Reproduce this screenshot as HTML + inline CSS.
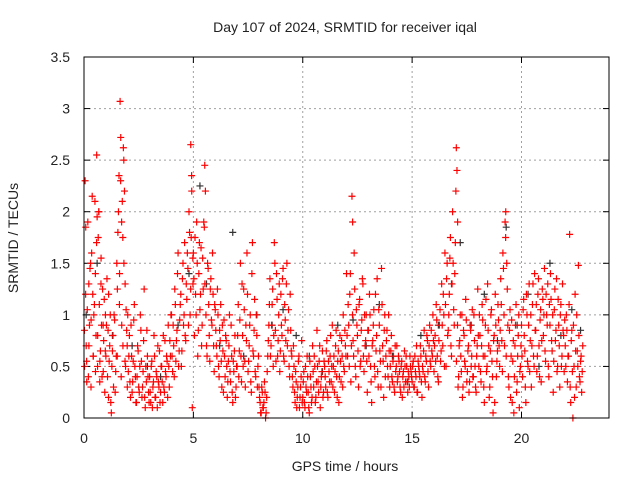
<!DOCTYPE html>
<html><head><meta charset="utf-8"><style>
body{margin:0;background:#fff}
svg text{font-family:"Liberation Sans",sans-serif;fill:#222}
</style></head><body>
<svg id="chart" width="640" height="480" viewBox="0 0 640 480" xmlns="http://www.w3.org/2000/svg">
<text x="345" y="32" font-size="14" text-anchor="middle">Day 107 of 2024, SRMTID for receiver iqal</text>
<text x="345" y="471" font-size="14" text-anchor="middle">GPS time / hours</text>
<text x="0" y="0" font-size="14" text-anchor="middle" transform="translate(18,238) rotate(-90)">SRMTID / TECUs</text>
<g id="grid"></g>
<g id="ticks"></g>
<g id="marks"></g>
<rect x="84" y="57" width="525" height="361" fill="none" stroke="#000" stroke-width="1"/>
</svg>
<script>
const xTicks=[0,5,10,15,20];
const yTicks=[0,0.5,1,1.5,2,2.5,3,3.5];
const yTickLabels=["0","0.5","1","1.5","2","2.5","3","3.5"];
const redT=[0.02,0.05,0.08,0.1,0.12,0.15,0.2,0.22,0.25,0.3,0.32,0.35,0.4,0.42,0.45,0.5,0.52,0.55,0.58,0.6,0.62,0.65,0.68,0.7,0.72,0.75,0.78,0.8,0.85,0.88,0.9,0.95,0.98,
1.0,1.05,1.1,1.12,1.15,1.2,1.25,1.3,1.35,1.4,1.45,1.5,1.52,1.55,1.6,1.62,1.65,1.68,1.7,1.72,1.75,1.78,1.8,1.82,1.85,1.88,1.9,1.95,1.98,
2.0,2.05,2.1,2.15,2.2,2.25,2.3,2.35,2.4,2.45,2.5,2.55,2.6,2.65,2.7,2.75,2.8,2.85,2.9,2.95,
3.0,3.05,3.1,3.15,3.2,3.25,3.3,3.35,3.4,3.45,3.5,3.55,3.6,3.65,3.7,3.75,3.8,3.85,3.9,3.95,
4.0,4.05,4.1,4.15,4.2,4.25,4.3,4.35,4.4,4.45,4.5,4.55,4.6,4.65,4.7,4.75,4.8,4.85,4.88,4.9,4.92,4.95,4.98,
5.0,5.05,5.1,5.15,5.2,5.25,5.3,5.35,5.4,5.45,5.5,5.52,5.55,5.6,5.65,5.7,5.75,5.8,5.85,5.9,5.95,
6.0,6.05,6.1,6.15,6.2,6.25,6.3,6.35,6.4,6.45,6.5,6.55,6.6,6.65,6.7,6.75,6.8,6.85,6.9,6.95,
7.0,7.05,7.1,7.15,7.2,7.25,7.3,7.35,7.4,7.45,7.5,7.55,7.6,7.65,7.7,7.75,7.8,7.85,7.9,7.95,
8.0,8.05,8.1,8.15,8.2,8.25,8.3,8.35,8.4,8.45,8.5,8.55,8.6,8.65,8.7,8.75,8.8,8.85,8.9,8.95,
9.0,9.05,9.1,9.15,9.2,9.25,9.3,9.35,9.4,9.45,9.5,9.55,9.6,9.65,9.7,9.75,9.8,9.85,9.9,9.95,
10.0,10.05,10.1,10.15,10.2,10.25,10.3,10.35,10.4,10.45,10.5,10.55,10.6,10.65,10.7,10.75,10.8,10.85,10.9,10.95,
11.0,11.05,11.1,11.15,11.2,11.25,11.3,11.35,11.4,11.45,11.5,11.55,11.6,11.65,11.7,11.75,11.8,11.85,11.9,11.95,
12.0,12.05,12.1,12.15,12.2,12.25,12.28,12.3,12.35,12.4,12.45,12.5,12.55,12.6,12.65,12.7,12.75,12.8,12.85,12.9,12.95,
13.0,13.05,13.1,13.15,13.2,13.25,13.3,13.35,13.4,13.45,13.5,13.55,13.6,13.65,13.7,13.75,13.8,13.85,13.9,13.95,
14.0,14.05,14.1,14.15,14.2,14.25,14.3,14.35,14.4,14.45,14.5,14.55,14.6,14.65,14.7,14.75,14.8,14.85,14.9,14.95,
15.0,15.05,15.1,15.15,15.2,15.25,15.3,15.35,15.4,15.45,15.5,15.55,15.6,15.65,15.7,15.75,15.8,15.85,15.9,15.95,
16.0,16.05,16.1,16.15,16.2,16.25,16.3,16.35,16.4,16.45,16.5,16.55,16.6,16.65,16.7,16.75,16.8,16.85,16.9,16.95,17.0,17.02,17.05,17.08,
17.1,17.15,17.2,17.25,17.3,17.35,17.4,17.45,17.5,17.55,17.6,17.65,17.7,17.75,17.8,17.85,17.9,17.95,
18.0,18.05,18.1,18.15,18.2,18.25,18.3,18.35,18.4,18.45,18.5,18.55,18.6,18.65,18.7,18.75,18.8,18.85,18.9,18.95,
19.0,19.05,19.1,19.15,19.2,19.25,19.28,19.3,19.35,19.4,19.45,19.5,19.55,19.6,19.65,19.7,19.75,19.8,19.85,19.9,19.95,
20.0,20.05,20.1,20.15,20.2,20.25,20.3,20.35,20.4,20.45,20.5,20.55,20.6,20.65,20.7,20.75,20.8,20.85,20.9,20.95,
21.0,21.05,21.1,21.15,21.2,21.25,21.3,21.35,21.4,21.45,21.5,21.55,21.6,21.65,21.7,21.75,21.8,21.85,21.9,21.95,
22.0,22.05,22.1,22.15,22.2,22.25,22.3,22.35,22.4,22.45,22.5,22.55,22.6,22.65,22.7,22.75,22.8];
const redV=[0.85,2.3,1.85,0.7,0.55,1.05,0.4,1.3,0.9,1.5,0.3,1.6,1.2,0.6,1.0,2.1,1.4,0.8,2.55,1.95,0.5,1.75,2.0,1.1,0.35,0.65,1.55,0.9,1.25,0.45,0.75,0.25,1.0,
0.6,1.35,0.85,0.2,0.55,1.0,0.05,0.65,0.3,0.95,0.45,1.5,0.6,1.8,2.35,1.1,3.07,2.72,0.4,1.9,2.1,0.7,2.62,2.5,2.2,1.3,0.5,0.85,0.3,
1.0,0.6,0.35,0.9,0.25,0.55,1.1,0.4,0.15,0.7,0.3,0.5,0.85,0.2,0.45,1.25,0.1,0.35,0.6,0.25,
0.4,0.15,0.55,0.3,0.8,0.2,0.45,0.1,0.35,0.65,0.25,0.5,0.15,0.3,0.75,0.4,0.55,0.9,0.3,0.6,
1.0,0.45,0.7,1.25,0.55,0.85,1.6,0.65,1.1,0.5,1.35,0.9,1.7,0.75,1.15,1.45,2.0,1.0,2.65,1.75,2.35,0.1,1.3,
1.6,0.8,1.2,1.9,0.6,1.4,1.05,1.65,0.9,1.25,1.85,2.45,2.2,0.7,1.5,1.1,0.55,1.35,0.9,1.2,0.45,
1.05,0.7,1.25,0.5,0.85,1.1,0.3,0.65,0.95,0.4,0.75,0.2,0.55,1.0,0.35,0.6,0.15,0.45,0.8,0.3,
0.5,1.1,0.65,1.5,0.35,0.8,1.25,0.55,0.9,1.6,0.45,0.7,1.0,0.25,1.7,0.6,1.15,0.4,0.8,0.5,
0.3,0.15,0.05,0.25,0.1,0.35,0.0,0.2,0.6,0.9,1.35,0.7,1.1,0.5,1.7,0.85,1.4,0.6,1.0,0.45,
1.2,0.8,1.45,0.55,0.95,1.3,0.7,1.05,0.4,0.85,0.6,0.3,0.5,0.15,0.35,0.2,0.55,0.1,0.3,0.75,
0.2,0.45,0.1,0.3,0.6,0.25,0.05,0.4,0.15,0.7,0.3,0.5,0.2,0.85,0.35,0.55,0.1,0.4,0.65,0.25,
0.5,0.3,0.75,0.2,0.45,0.6,0.35,0.9,0.5,0.25,0.7,0.4,0.55,0.15,0.8,0.35,0.6,1.0,0.45,0.7,
1.4,0.6,0.9,1.2,0.35,2.15,1.9,0.75,1.6,0.5,1.05,0.8,0.3,1.15,0.55,0.95,1.3,0.45,0.7,1.0,0.25,
0.85,1.2,0.5,0.15,0.75,1.05,0.4,0.65,1.35,0.3,0.9,0.55,1.45,0.7,0.2,1.0,0.6,0.85,0.4,0.65,
0.5,0.8,0.35,0.6,0.25,0.45,0.7,0.4,0.55,0.3,0.5,0.2,0.45,0.65,0.35,0.5,0.25,0.4,0.6,0.45,
0.35,0.55,0.3,0.45,0.7,0.25,0.5,0.4,0.6,0.2,0.45,0.85,0.35,0.55,0.75,0.3,0.9,0.5,0.65,1.0,
0.45,0.8,1.1,0.6,0.35,0.9,0.55,1.3,0.7,1.0,1.6,0.5,1.5,0.85,1.2,1.75,0.6,2.0,1.05,1.4,2.2,2.62,2.4,1.9,
0.3,0.7,1.0,0.45,0.2,0.85,0.55,1.15,0.35,0.65,0.25,0.9,0.5,1.05,0.4,0.75,0.3,0.6,
1.25,0.5,0.8,0.35,1.1,0.6,0.15,0.9,0.45,1.3,0.7,0.3,1.0,0.55,0.05,0.8,1.2,0.4,0.65,0.95,
0.5,1.35,0.75,1.6,1.0,1.9,2.0,0.6,1.25,0.4,0.85,0.2,0.95,0.55,0.05,0.7,1.1,0.35,0.8,0.1,0.5,
0.9,0.4,1.15,0.65,0.15,1.0,0.5,1.3,0.75,0.3,1.1,0.6,1.4,0.85,0.45,1.2,0.7,0.95,0.35,1.25,
0.8,1.45,0.55,1.0,1.3,0.4,0.9,1.15,0.65,0.25,1.05,0.75,1.35,0.5,0.9,0.3,1.1,0.6,0.85,0.45,
0.7,1.0,0.35,0.6,1.78,0.15,0.85,0.0,0.5,1.2,0.3,0.65,1.48,0.4,0.55,0.25,0.7];
const redT2=[0.025,0.075,0.125,0.175,0.225,0.275,0.325,0.375,0.425,0.475,0.525,0.575,0.625,0.675,0.725,0.775,0.825,0.875,0.925,0.975,
1.025,1.075,1.125,1.175,1.225,1.275,1.325,1.375,1.425,1.475,1.525,1.575,1.625,1.675,1.725,1.775,1.825,1.875,1.925,1.975,
2.025,2.075,2.125,2.175,2.225,2.275,2.325,2.375,2.425,2.475,2.525,2.575,2.625,2.675,2.725,2.775,2.825,2.875,2.925,2.975,
3.025,3.075,3.125,3.175,3.225,3.275,3.325,3.375,3.425,3.475,3.525,3.575,3.625,3.675,3.725,3.775,3.825,3.875,3.925,3.975,
4.025,4.075,4.125,4.175,4.225,4.275,4.325,4.375,4.425,4.475,4.525,4.575,4.625,4.675,4.725,4.775,4.825,4.875,4.925,4.975,
5.025,5.075,5.125,5.175,5.225,5.275,5.325,5.375,5.425,5.475,5.525,5.575,5.625,5.675,5.725,5.775,5.825,5.875,5.925,5.975,
6.025,6.075,6.125,6.175,6.225,6.275,6.325,6.375,6.425,6.475,6.525,6.575,6.625,6.675,6.725,6.775,6.825,6.875,6.925,6.975,
7.025,7.075,7.125,7.175,7.225,7.275,7.325,7.375,7.425,7.475,7.525,7.575,7.625,7.675,7.725,7.775,7.825,7.875,7.925,7.975,
8.025,8.075,8.125,8.175,8.225,8.275,8.325,8.375,8.425,8.475,8.525,8.575,8.625,8.675,8.725,8.775,8.825,8.875,8.925,8.975,
9.025,9.075,9.125,9.175,9.225,9.275,9.325,9.375,9.425,9.475,9.525,9.575,9.625,9.675,9.725,9.775,9.825,9.875,9.925,9.975,
10.025,10.075,10.125,10.175,10.225,10.275,10.325,10.375,10.425,10.475,10.525,10.575,10.625,10.675,10.725,10.775,10.825,10.875,10.925,10.975,
11.025,11.075,11.125,11.175,11.225,11.275,11.325,11.375,11.425,11.475,11.525,11.575,11.625,11.675,11.725,11.775,11.825,11.875,11.925,11.975,
12.025,12.075,12.125,12.175,12.225,12.275,12.325,12.375,12.425,12.475,12.525,12.575,12.625,12.675,12.725,12.775,12.825,12.875,12.925,12.975,
13.025,13.075,13.125,13.175,13.225,13.275,13.325,13.375,13.425,13.475,13.525,13.575,13.625,13.675,13.725,13.775,13.825,13.875,13.925,13.975,
14.025,14.075,14.125,14.175,14.225,14.275,14.325,14.375,14.425,14.475,14.525,14.575,14.625,14.675,14.725,14.775,14.825,14.875,14.925,14.975,
15.025,15.075,15.125,15.175,15.225,15.275,15.325,15.375,15.425,15.475,15.525,15.575,15.625,15.675,15.725,15.775,15.825,15.875,15.925,15.975,
16.025,16.075,16.125,16.175,16.225,16.275,16.325,16.375,16.425,16.475,16.525,16.575,16.625,16.675,16.725,16.775,16.825,16.875,16.925,16.975,
17.025,17.075,17.125,17.175,17.225,17.275,17.325,17.375,17.425,17.475,17.525,17.575,17.625,17.675,17.725,17.775,17.825,17.875,17.925,17.975,
18.025,18.075,18.125,18.175,18.225,18.275,18.325,18.375,18.425,18.475,18.525,18.575,18.625,18.675,18.725,18.775,18.825,18.875,18.925,18.975,
19.025,19.075,19.125,19.175,19.225,19.275,19.325,19.375,19.425,19.475,19.525,19.575,19.625,19.675,19.725,19.775,19.825,19.875,19.925,19.975,
20.025,20.075,20.125,20.175,20.225,20.275,20.325,20.375,20.425,20.475,20.525,20.575,20.625,20.675,20.725,20.775,20.825,20.875,20.925,20.975,
21.025,21.075,21.125,21.175,21.225,21.275,21.325,21.375,21.425,21.475,21.525,21.575,21.625,21.675,21.725,21.775,21.825,21.875,21.925,21.975,
22.025,22.075,22.125,22.175,22.225,22.275,22.325,22.375,22.425,22.475,22.525,22.575,22.625,22.675,22.725,22.775];
const redV2=[0.5,1.2,0.35,1.9,0.7,1.45,0.95,2.15,0.6,1.1,0.45,1.7,0.8,2.0,0.55,1.3,0.4,0.9,1.15,0.65,
0.9,0.4,1.2,0.7,0.15,0.5,0.8,1.0,0.25,0.6,1.25,2.0,1.4,2.3,0.9,1.75,1.5,0.55,1.05,0.7,
0.45,0.8,0.2,0.6,0.35,0.95,0.5,0.15,0.4,0.65,0.25,1.0,0.55,0.3,0.75,0.2,0.5,0.85,0.4,0.15,
0.25,0.5,0.1,0.35,0.6,0.2,0.4,0.7,0.3,0.15,0.5,0.35,0.8,0.25,0.45,0.6,0.2,0.5,0.75,1.0,
0.6,0.9,0.4,1.1,0.75,1.4,0.5,0.95,1.2,0.65,1.5,1.0,0.8,1.3,1.6,0.9,1.8,1.25,2.2,1.55,
1.35,1.75,1.0,1.5,0.85,1.7,1.2,0.7,1.55,1.9,1.3,1.0,0.6,1.45,0.8,1.25,0.95,1.6,0.7,1.1,
0.85,0.6,1.0,0.4,0.75,0.55,0.9,0.25,0.6,0.8,0.5,0.35,0.7,0.45,0.9,0.25,0.55,0.65,0.2,0.5,
0.8,0.4,0.95,0.6,1.3,0.5,1.05,0.3,0.75,1.2,0.55,0.9,0.35,1.4,0.65,0.85,0.45,1.0,0.3,0.6,
0.2,0.05,0.3,0.1,0.15,0.25,0.05,0.45,0.75,1.1,0.6,0.9,1.25,0.8,1.5,0.55,1.15,0.75,1.3,0.65,
0.9,1.35,0.6,1.1,0.75,1.5,0.85,0.5,1.2,0.65,0.4,0.7,0.25,0.45,0.1,0.3,0.6,0.2,0.4,0.15,
0.35,0.15,0.5,0.25,0.4,0.1,0.55,0.3,0.2,0.45,0.6,0.15,0.35,0.5,0.25,0.7,0.3,0.45,0.2,0.55,
0.4,0.65,0.25,0.55,0.35,0.8,0.5,0.3,0.6,0.45,0.85,0.2,0.65,0.4,0.55,0.75,0.3,0.5,0.85,0.6,
0.8,1.1,0.5,1.4,0.7,1.0,0.6,1.25,0.4,0.9,0.65,1.1,0.5,0.85,1.35,0.6,1.0,0.75,0.55,0.85,
0.6,1.0,0.35,0.7,0.9,0.5,1.2,0.8,0.45,1.05,0.65,0.3,1.1,0.55,0.85,0.4,0.75,0.5,1.0,0.3,
0.65,0.4,0.55,0.3,0.7,0.5,0.35,0.6,0.45,0.25,0.55,0.4,0.3,0.5,0.6,0.35,0.45,0.3,0.5,0.4,
0.5,0.3,0.6,0.4,0.25,0.55,0.45,0.7,0.35,0.5,0.65,0.4,0.6,0.8,0.45,0.7,0.55,0.85,0.6,0.75,
0.7,0.55,0.95,0.4,0.75,1.05,0.65,0.9,1.2,0.5,1.1,1.35,0.8,1.0,1.55,0.7,1.3,1.5,0.9,1.7,
0.55,0.9,0.4,0.75,0.6,1.0,0.3,0.8,0.5,0.95,0.45,0.7,0.35,0.85,0.6,0.4,1.0,0.5,0.25,0.7,
0.8,1.0,0.45,0.7,0.95,0.3,0.6,1.15,0.5,0.85,0.2,0.65,1.05,0.4,0.75,0.15,0.9,0.55,1.1,0.7,
0.85,1.1,0.45,1.45,0.7,1.75,1.5,0.9,0.3,1.05,0.6,0.15,0.75,0.4,0.9,0.25,0.6,1.0,0.45,0.7,
0.6,1.05,0.8,0.3,1.2,0.55,0.9,0.45,1.0,0.7,1.3,0.5,0.85,1.1,0.6,1.35,0.4,1.05,0.75,1.15,
1.0,0.65,1.2,0.9,0.5,1.1,1.4,0.75,1.0,0.55,1.25,0.85,0.45,1.15,0.7,1.0,0.5,1.3,0.8,0.95,
0.5,0.85,0.6,1.1,0.3,0.75,0.45,0.9,0.2,0.65,1.0,0.5,0.8,0.35,0.6,0.45];
const grayT=[0.1,0.6,1.3,2.2,2.9,3.5,4.3,4.8,5.3,5.6,6.2,6.8,7.3,7.9,8.6,9.1,9.7,10.3,10.9,11.6,12.3,12.9,13.5,14.1,14.8,15.4,16.2,16.8,17.2,17.7,18.3,18.9,19.3,19.8,20.3,20.8,21.3,21.8,22.3,22.7];
const grayV=[1.0,1.5,0.8,0.7,0.5,0.4,0.9,1.4,2.25,1.3,0.7,1.8,0.6,1.0,0.9,1.05,0.8,0.6,0.45,0.9,0.95,0.7,1.1,0.6,0.35,0.8,0.9,1.3,1.7,0.9,1.2,0.75,1.85,0.9,1.2,0.5,1.5,0.8,1.05,0.85];

const NS="http://www.w3.org/2000/svg";
const X0=84,X1=609,Y0=418,Y1=57,XMAX=24,YMAX=3.5;
function xs(t){return X0+(X1-X0)*t/XMAX;}
function ys(v){return Y0-(Y0-Y1)*v/YMAX;}
const grid=document.getElementById('grid'),ticks=document.getElementById('ticks'),marks=document.getElementById('marks');
function mk(tag,attrs,parent){const e=document.createElementNS(NS,tag);for(const k in attrs)e.setAttribute(k,attrs[k]);parent.appendChild(e);return e;}
xTicks.forEach(t=>{
  const x=xs(t);
  if(t>0){const g=mk('line',{x1:x,x2:x,y1:Y0,y2:Y1,stroke:'#a0a0a0','stroke-dasharray':'2,3'},grid);
  
  }
  mk('line',{x1:x,x2:x,y1:Y0,y2:Y0-6,stroke:'#000'},ticks);
  mk('line',{x1:x,x2:x,y1:Y1,y2:Y1+6,stroke:'#000'},ticks);
  const l=mk('text',{x:x,y:443,'font-size':14,'text-anchor':'middle'},ticks);l.textContent=String(t);
  
  
});
yTicks.forEach((v,i)=>{
  const y=ys(v);
  if(v>0&&v<YMAX){const g=mk('line',{x1:X0,x2:X1,y1:y,y2:y,stroke:'#a0a0a0','stroke-dasharray':'2,3'},grid);
  
  }
  mk('line',{x1:X0,x2:X0+6,y1:y,y2:y,stroke:'#000'},ticks);
  mk('line',{x1:X1,x2:X1-6,y1:y,y2:y,stroke:'#000'},ticks);
  const l=mk('text',{x:70,y:y+5,'font-size':14,'text-anchor':'end'},ticks);l.textContent=yTickLabels[i];
  
  
});
function plus(t,v,color,name){
  const x=xs(t),y=ys(v);
  const p=mk('path',{d:`M${x-3.5},${y}h7M${x},${y-3.5}v7`,stroke:color,'stroke-width':1.2,fill:'none'},marks);
  
  
}
grayT.forEach((t,i)=>plus(t,grayV[i],'#333','gray-point'));
redT.forEach((t,i)=>plus(t,redV[i],'#ff0000','red-point'));
redT2.forEach((t,i)=>plus(t,redV2[i],'#ff0000','red-point'));
</script>
</body></html>
